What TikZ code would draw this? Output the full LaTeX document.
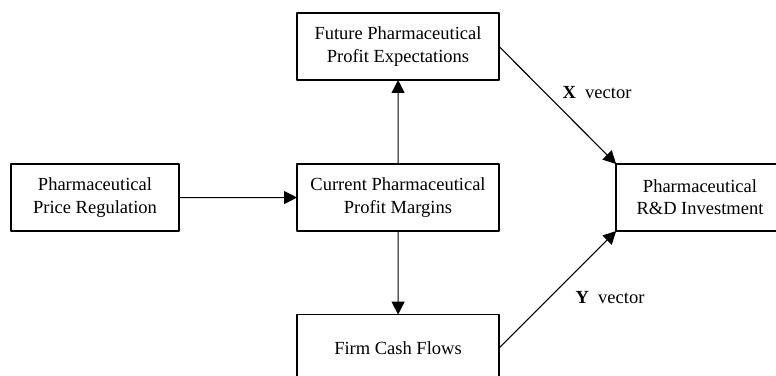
\documentclass[tikz,border=0pt]{standalone}
\usepackage{fontspec}
\setmainfont{Liberation Serif}
\usetikzlibrary{arrows.meta}

\begin{document}
\begin{tikzpicture}[scale=1.9,>={Triangle[length=7pt,width=7pt]},line join=round,
  box/.style={draw,line width=0.7pt,align=center,outer sep=0pt,inner sep=2pt,
    minimum width=109.2pt,minimum height=36.2pt,font=\fontsize{10}{12}\selectfont},
  lbl/.style={font=\fontsize{10}{12}\selectfont}]
  \useasboundingbox (0,0) rectangle (7.76,-3.75);
  \clip (0,0) rectangle (7.76,-3.75);
  % boxes
  \node[box,minimum width=90.8pt] (reg) at (0.95,-1.975) {Pharmaceutical\\Price Regulation};
  \node[box] (cur) at (3.98,-1.975) {Current Pharmaceutical\\Profit Margins};
  \node[box] (fut) at (3.98,-0.465) {Future Pharmaceutical\\Profit Expectations};
  \node[box] (cash) at (3.98,-3.48) {Firm Cash Flows};
  \node[box,minimum width=90.8pt] (rd) at (7.00,-1.975) {Pharmaceutical\\R\&D Investment};
  % connectors
  \draw[->,line width=0.6pt] (reg) -- (cur);
  \draw[->,line width=0.6pt] (cur) -- (fut);
  \draw[->,line width=0.6pt] (cur) -- (cash);
  \draw[->,line width=0.6pt] (fut.east) -- (rd.north west);
  \draw[->,line width=0.6pt] (cash.east) -- (rd.south west);
  \node[lbl] (xlab) at (5.97,-0.93) {\textbf{X}\enspace vector};
  \node[lbl] (ylab) at (6.10,-2.98) {\textbf{Y}\enspace vector};
\end{tikzpicture}
\end{document}
